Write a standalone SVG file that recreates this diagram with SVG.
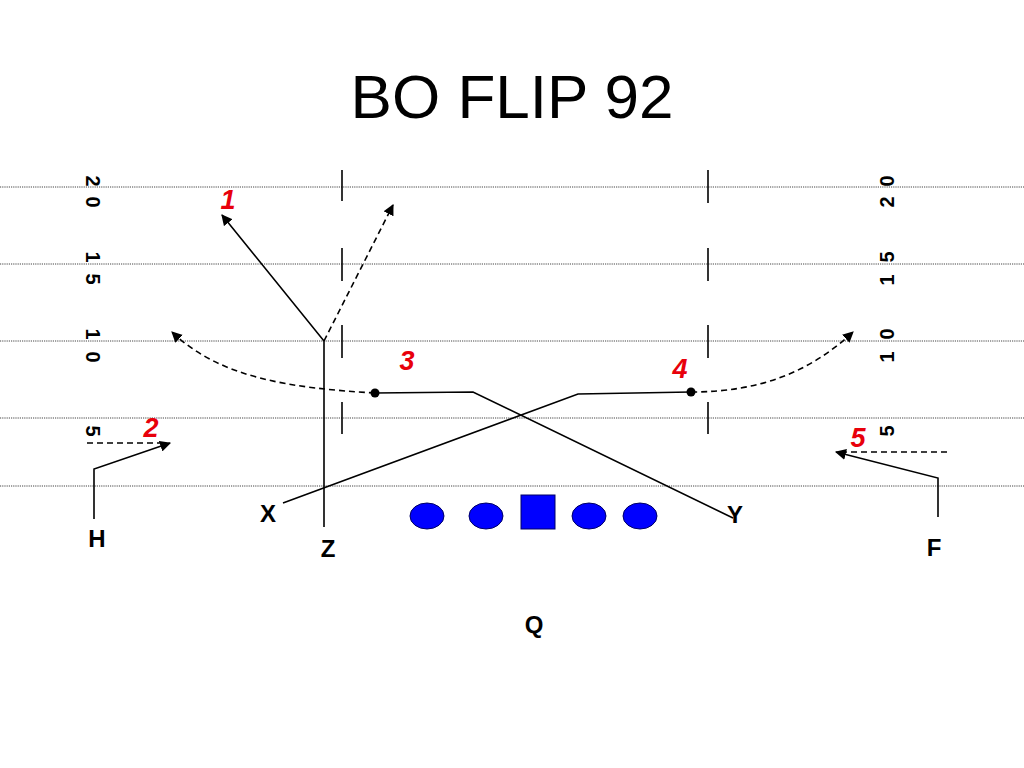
<svg xmlns="http://www.w3.org/2000/svg" width="1024" height="768" viewBox="0 0 1024 768">
<style>
.yard{stroke:#444;stroke-width:1;stroke-dasharray:1.2,1;fill:none}
.hash{stroke:#000;stroke-width:1.6;fill:none}
.route{stroke:#000;stroke-width:1.6;fill:none}
.dash{stroke:#000;stroke-width:1.6;fill:none;stroke-dasharray:6,4}
.num{font-family:"Liberation Sans",Arial,sans-serif;font-weight:bold;font-size:20px;fill:#000;text-anchor:middle}
.lbl{font-family:"Liberation Sans",Arial,sans-serif;font-weight:bold;font-size:24px;fill:#000;text-anchor:middle}
.red{font-family:"Liberation Sans",Arial,sans-serif;font-weight:bold;font-style:italic;font-size:27px;fill:#e8000b;text-anchor:middle}
.lineman{fill:#0000ff;stroke:#000066;stroke-width:1}
</style>
<defs>
<marker id="ah2" viewBox="0 0 10 10" refX="9" refY="5" markerWidth="11" markerHeight="11" markerUnits="userSpaceOnUse" orient="auto">
<path d="M0,0 L10,5 L0,10 z" fill="#000"/>
</marker>
</defs>
<rect width="1024" height="768" fill="#fff"/>
<text x="512" y="118" font-family="Liberation Sans, Arial, sans-serif" font-size="62" text-anchor="middle" fill="#000">BO FLIP 92</text>

<g id="field">
<line class="yard" x1="0" y1="187" x2="1024" y2="187"/>
<line class="yard" x1="0" y1="264" x2="1024" y2="264"/>
<line class="yard" x1="0" y1="341" x2="1024" y2="341"/>
<line class="yard" x1="0" y1="418" x2="1024" y2="418"/>
<line class="yard" x1="0" y1="486" x2="1024" y2="486"/>
<line class="hash" x1="342" y1="170" x2="342" y2="201"/>
<line class="hash" x1="342" y1="248" x2="342" y2="281"/>
<line class="hash" x1="342" y1="325" x2="342" y2="358"/>
<line class="hash" x1="342" y1="402" x2="342" y2="434"/>
<line class="hash" x1="708" y1="170" x2="708" y2="203"/>
<line class="hash" x1="708" y1="248" x2="708" y2="281"/>
<line class="hash" x1="708" y1="325" x2="708" y2="358"/>
<line class="hash" x1="708" y1="402" x2="708" y2="434"/>
<text class="num" transform="translate(93,181) rotate(90)" y="7">2</text>
<text class="num" transform="translate(93,202) rotate(90)" y="7">0</text>
<text class="num" transform="translate(93,257) rotate(90)" y="7">1</text>
<text class="num" transform="translate(93,279) rotate(90)" y="7">5</text>
<text class="num" transform="translate(93,334) rotate(90)" y="7">1</text>
<text class="num" transform="translate(93,357) rotate(90)" y="7">0</text>
<text class="num" transform="translate(93,431) rotate(90)" y="7">5</text>
<text class="num" transform="translate(887,181) rotate(-90)" y="7">0</text>
<text class="num" transform="translate(887,202) rotate(-90)" y="7">2</text>
<text class="num" transform="translate(887,257) rotate(-90)" y="7">5</text>
<text class="num" transform="translate(887,280) rotate(-90)" y="7">1</text>
<text class="num" transform="translate(887,334) rotate(-90)" y="7">0</text>
<text class="num" transform="translate(887,357) rotate(-90)" y="7">1</text>
<text class="num" transform="translate(887,431) rotate(-90)" y="7">5</text>
</g>

<g id="connectors">
<path class="route" d="M324,527 L324,341 L222,215" marker-end="url(#ah2)"/>
<path class="dash" d="M324,341 L393,205" marker-end="url(#ah2)"/>
<path class="dash" d="M375,393 C290,388 220,378 172,332" marker-end="url(#ah2)"/>
<path class="route" d="M375,393 L473,392 L733,518"/>
<path class="route" d="M283,503 L578,394 L691,392"/>
<path class="dash" d="M691,392 C760,392 810,372 853,332" marker-end="url(#ah2)"/>
<path class="route" d="M94,519 L94,469 L170,443" marker-end="url(#ah2)"/>
<path class="dash" d="M87,443 L160,443"/>
<path class="route" d="M938,517 L938,478 L836,452" marker-end="url(#ah2)"/>
<path class="dash" d="M947,452 L845,452"/>
<circle cx="375" cy="393" r="4.5" fill="#000"/>
<circle cx="691" cy="392" r="4.5" fill="#000"/>
</g>

<g id="line-of-scrimmage">
<ellipse class="lineman" cx="427" cy="516" rx="17" ry="13"/>
<ellipse class="lineman" cx="486" cy="516" rx="17" ry="13"/>
<rect class="lineman" x="521" y="495" width="34" height="34"/>
<ellipse class="lineman" cx="589" cy="516" rx="17" ry="13"/>
<ellipse class="lineman" cx="640" cy="516" rx="17" ry="13"/>
</g>

<g id="X"><text class="lbl" x="268" y="522">X</text></g>
<g id="Y"><text class="lbl" x="735" y="523">Y</text></g>
<g id="H"><text class="lbl" x="97" y="547">H</text></g>
<g id="Z"><text class="lbl" x="328" y="557">Z</text></g>
<g id="F"><text class="lbl" x="934" y="556">F</text></g>
<g id="Q"><text class="lbl" x="534" y="633">Q</text></g>

<g id="route-numbers">
<text class="red" x="228" y="209">1</text>
<text class="red" x="151" y="437">2</text>
<text class="red" x="407" y="370">3</text>
<text class="red" x="680" y="378">4</text>
<text class="red" x="858" y="447">5</text>
</g>
</svg>
